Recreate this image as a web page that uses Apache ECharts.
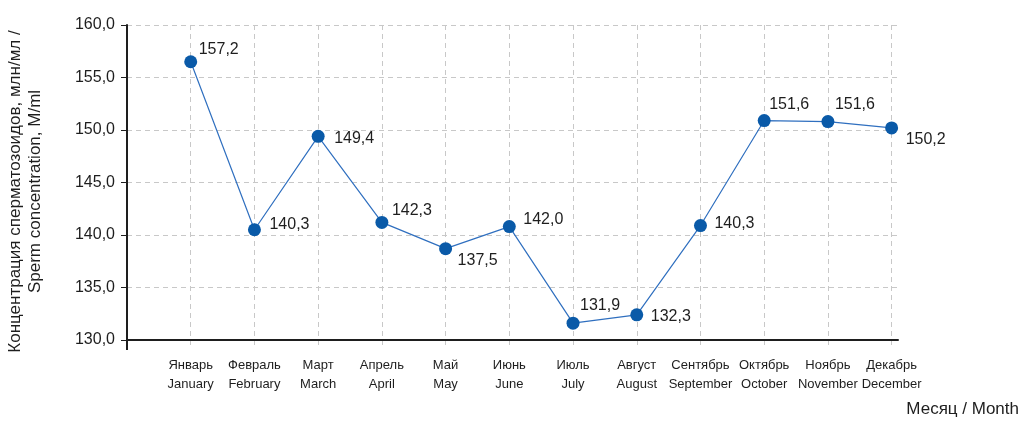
<!DOCTYPE html>
<html><head><meta charset="utf-8">
<script src="https://cdn.jsdelivr.net/npm/echarts@6/dist/echarts.min.js"></script>
<style>html,body{margin:0;padding:0;background:#fff}#c{width:1024px;height:429px}</style>
</head><body><div id="c"></div>
<script>
// Data
const monthsRu = ['Январь','Февраль','Март','Апрель','Май','Июнь','Июль','Август','Сентябрь','Октябрь','Ноябрь','Декабрь'];
const monthsEn = ['January','February','March','April','May','June','July','August','September','October','November','December'];
const pointValues = [156.5, 140.5, 149.4, 141.2, 138.7, 140.8, 131.6, 132.4, 140.9, 150.9, 150.8, 150.2];
const labelTexts = ['157,2','140,3','149,4','142,3','137,5','142,0','131,9','132,3','140,3','151,6','151,6','150,2'];
const yTicks = [130, 135, 140, 145, 150, 155, 160];
const xName = 'Месяц / Month';
const yName = 'Концентрация сперматозоидов, млн/мл /\nSperm concentration, M/ml';

// Layout (label offsets relative to the point)
const labelOffsets = [[8,-12],[15,-5],[16,2],[10,-12],[12,12],[14,-7],[7,-18],[14,2],[14,-2],[5,-16],[7,-17],[14,12]];

const LEFT = 127, AXIS_END = 898, TOP = 25, BOTTOM_Y = 340;
const XMAX = 12.1;
const unit = (AXIS_END - LEFT) / XMAX;
const gridRight2 = 1024 - (LEFT + 12 * unit);

const ink = '#1e1e1e';
const gridColor = '#c8c8c8';
const FONT = 'Liberation Sans, Arial, sans-serif';

const chart = echarts.init(document.getElementById('c'), null, {renderer: 'canvas'});
chart.setOption({
  animation: false,
  grid: [
    {left: LEFT, right: 1024 - AXIS_END, top: TOP, bottom: 429 - BOTTOM_Y, containLabel: false, outerBoundsMode: 'none'},
    {left: LEFT, right: gridRight2, top: TOP, bottom: 429 - BOTTOM_Y, containLabel: false, outerBoundsMode: 'none'}
  ],
  graphic: [
    {type: 'text', right: 5, top: 401, style: {text: xName, font: '17px ' + FONT, fill: ink}}
  ],
  xAxis: [
    {
      gridIndex: 0, type: 'value', min: 0, max: XMAX,
      axisLine: {show: true, lineStyle: {color: ink, width: 2}},
      axisTick: {show: true, customValues: [0], length: 10, lineStyle: {color: ink, width: 2}},
      axisLabel: {show: false},
      splitLine: {show: false},
      z: 5
    },
    {
      gridIndex: 1, type: 'value', min: 0, max: 12, interval: 1,
      axisLine: {show: false},
      axisTick: {show: true, length: 6, lineStyle: {color: gridColor, type: [5, 4], width: 1}},
      splitLine: {show: true, lineStyle: {color: gridColor, type: [5, 4], width: 1}},
      axisLabel: {
        show: true, margin: 16, interval: 0, showMinLabel: true, showMaxLabel: true, hideOverlap: false,
        fontFamily: FONT, fontSize: 13, lineHeight: 19, color: ink,
        formatter: function (v) {
          const i = Math.round(v) - 1;
          if (i < 0 || i > 11) return '';
          return monthsRu[i] + '\n' + monthsEn[i];
        }
      },
      z: 1
    }
  ],
  yAxis: [
    {
      gridIndex: 0, type: 'value', min: yTicks[0], max: yTicks[yTicks.length - 1], interval: 5,
      axisLine: {show: true, lineStyle: {color: ink, width: 2}},
      axisTick: {show: true, length: 6, lineStyle: {color: ink, width: 1}},
      splitLine: {show: true, lineStyle: {color: gridColor, type: [5, 4], width: 1}},
      axisLabel: {
        margin: 12, fontFamily: FONT, fontSize: 16, color: ink,
        formatter: function (v) { return v.toFixed(1).replace('.', ','); }
      },
      name: yName,
      nameLocation: 'middle', nameGap: 82, nameRotate: 90,
      nameTextStyle: {fontFamily: FONT, fontSize: 17, lineHeight: 20, color: ink, padding: [0, 18, 0, 0]},
      z: 5
    },
    {
      gridIndex: 1, type: 'value', min: yTicks[0], max: yTicks[yTicks.length - 1], show: false,
      splitLine: {show: false}
    }
  ],
  series: [
    {
      type: 'line', xAxisIndex: 0, yAxisIndex: 0,
      data: pointValues.map((v, i) => ({
        value: [i + 1, v],
        label: {offset: labelOffsets[i], formatter: labelTexts[i]}
      })),
      symbol: 'circle', symbolSize: 13,
      itemStyle: {color: '#0a5aa8'},
      lineStyle: {color: '#2f6fbf', width: 1.2},
      label: {
        show: true, position: 'inside', align: 'left', verticalAlign: 'middle',
        fontFamily: FONT, fontSize: 16, color: ink
      },
      z: 10
    }
  ]
});
</script>
</body></html>
